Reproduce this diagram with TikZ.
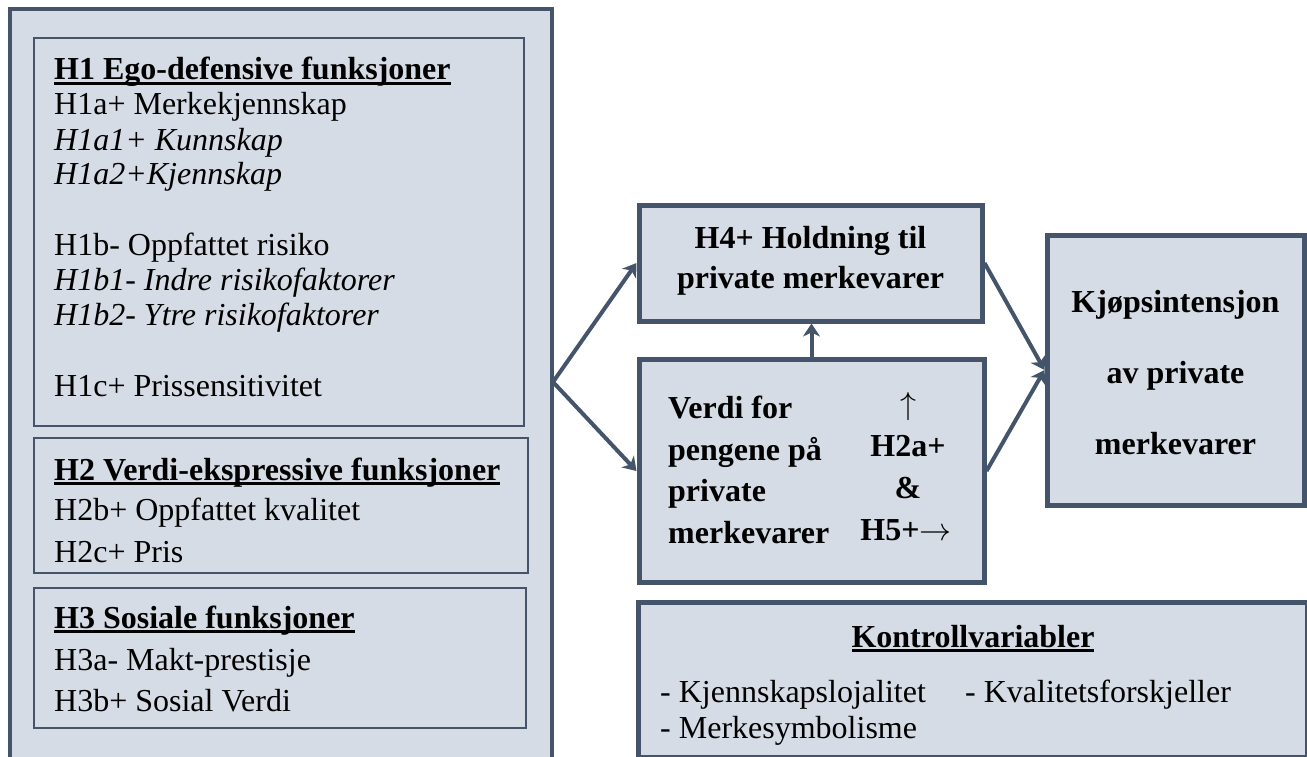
\documentclass[tikz,border=0pt]{standalone}
\usepackage{fix-cm}
\usepackage{fontspec}
\setmainfont{Liberation Serif}
\usetikzlibrary{arrows.meta}
\definecolor{frame}{HTML}{44546A}
\definecolor{panel}{HTML}{D6DCE5}
% bold heading with a heavy underline
\newcommand\ulhead[1]{\setbox0\hbox{\bfseries #1}\rlap{\rule[-5pt]{\wd0}{3pt}}\box0}
\begin{document}
\begin{tikzpicture}[x=1pt,y=-1pt,
  outerbox/.style={draw=frame,fill=panel,line width=4pt,inner sep=0pt},
  groupbox/.style={draw=frame,fill=panel,line width=2.5pt,inner sep=0pt},
  keybox/.style={draw=frame,fill=panel,line width=5pt,inner sep=0pt},
  txt/.style={anchor=base west,inner sep=0pt,font=\fontsize{32}{35}\selectfont},
  btxt/.style={txt,font=\fontsize{32}{35}\selectfont\bfseries},
  ctxt/.style={anchor=base,inner sep=0pt,font=\fontsize{32}{35}\selectfont\bfseries},
  link/.style={draw=frame,line width=4pt,line join=miter},
  tip/.tip={Stealth[length=13pt,width=17pt,inset=4pt]}
]
\useasboundingbox (0,0) rectangle (1307,757);
\clip (0,0) rectangle (1307,757);

% left panel with the three function groups
\node[outerbox,minimum width=542,minimum height=752.5] (funk) at (281,385.75) {};
\node[groupbox,minimum width=490,minimum height=388] (h1) at (279,232) {};
\node[groupbox,minimum width=494,minimum height=135] (h2) at (281,505.5) {};
\node[groupbox,minimum width=492,minimum height=140] (h3) at (280,658) {};

\node[txt] (h1head) at (54,80) {\ulhead{H1 Ego-defensive funksjoner}};
\node[txt] (h1a)  at (54,115) {H1a+ Merkekjennskap};
\node[txt] (h1a1) at (54,150) {\itshape H1a1+ Kunnskap};
\node[txt] (h1a2) at (54,185) {\itshape H1a2+Kjennskap};
\node[txt] (h1b)  at (54,255) {H1b- Oppfattet risiko};
\node[txt] (h1b1) at (54,290) {\itshape H1b1- Indre risikofaktorer};
\node[txt] (h1b2) at (54,325) {\itshape H1b2- Ytre risikofaktorer};
\node[txt] (h1c)  at (54,396) {H1c+ Prissensitivitet};

\node[txt] (h2head) at (54,480) {\ulhead{H2 Verdi-ekspressive funksjoner}};
\node[txt] (h2b) at (54,520) {H2b+ Oppfattet kvalitet};
\node[txt] (h2c) at (54,562) {H2c+ Pris};

\node[txt] (h3head) at (54,628) {\ulhead{H3 Sosiale funksjoner}};
\node[txt] (h3a) at (54,670) {H3a- Makt-prestisje};
\node[txt] (h3b) at (54,711) {H3b+ Sosial Verdi};

% attitude, value and intention boxes
\node[keybox,minimum width=343,minimum height=116] (h4) at (810.5,263) {};
\node[ctxt] (h4l1) at (810.5,248) {H4+ Holdning til};
\node[ctxt] (h4l2) at (810.5,288) {private merkevarer};

\node[keybox,minimum width=345,minimum height=222.5] (verdi) at (811.5,471) {};
\node[btxt] (v1) at (668,418) {Verdi for};
\node[btxt] (v2) at (668,460) {pengene på};
\node[btxt] (v3) at (668,501) {private};
\node[btxt] (v4) at (668,543) {merkevarer};
\node[ctxt] (r1) at (908,414) {$\uparrow$};
\node[ctxt] (r2) at (908,456) {H2a+};
\node[ctxt] (r3) at (908,498) {\&};
\node[ctxt] (r4) at (906,540) {H5+$\rightarrow$};

\node[keybox,minimum width=257,minimum height=270] (kjop) at (1175.5,370) {};
\node[ctxt] (k1) at (1175.5,312) {Kjøpsintensjon};
\node[ctxt] (k2) at (1175.5,383) {av private};
\node[ctxt] (k3) at (1175.5,454) {merkevarer};

% control variables
\node[keybox,minimum width=669,minimum height=155] (kontroll) at (972.5,679.5) {};
\node[ctxt] (khead) at (973,647) {\ulhead{Kontrollvariabler}};
\node[txt] (kv1) at (660,702) {- Kjennskapslojalitet};
\node[txt] (kv2) at (965,702) {- Kvalitetsforskjeller};
\node[txt] (kv3) at (660,738) {- Merkesymbolisme};

% connectors
\coordinate (split) at (553,382);
\draw[link,tip-tip] (h4.west) -- (split) -- (verdi.west);
\draw[link,-tip] (verdi.north) -- (verdi.north |- h4.south);
\draw[link,-tip] (h4.east) -- (kjop.west);
\draw[link,-tip] (verdi.east) -- (kjop.west);
\end{tikzpicture}
\end{document}
